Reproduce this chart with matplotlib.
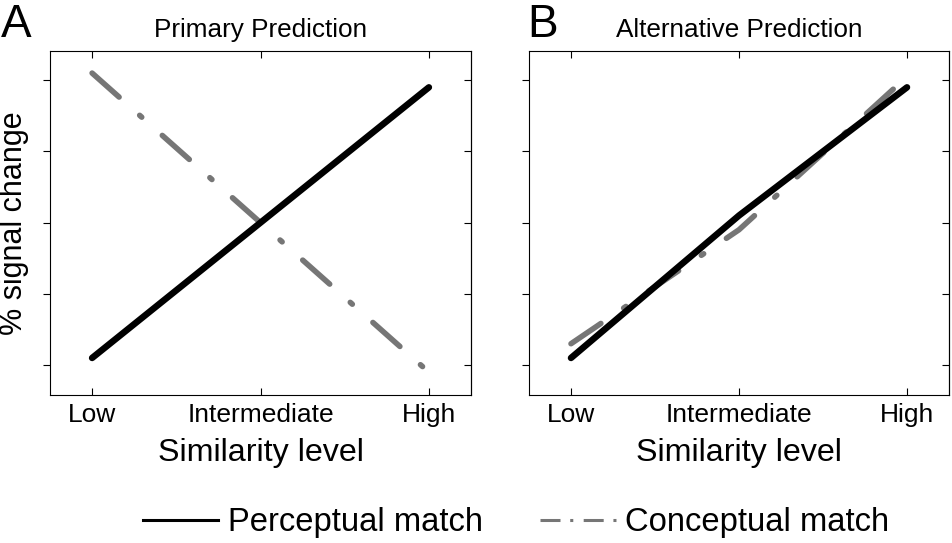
import matplotlib
matplotlib.use("Agg")
import matplotlib.pyplot as plt
from matplotlib.lines import Line2D

plt.rcParams['font.family'] = ['Liberation Sans', 'DejaVu Sans']
plt.rcParams['lines.scale_dashes'] = False

# ---- data ----
levels = ["Low", "Intermediate", "High"]
x_pos = [0, 1, 2]
yticks = [0, 1, 2, 3, 4]

perceptual_A = [0.10, 2.00, 3.90]
conceptual_A = [4.10, 2.00, -0.10]
perceptual_B = [0.10, 2.10, 3.90]
conceptual_B = [0.30, 1.90, 4.05]

titles = ["Primary Prediction", "Alternative Prediction"]
letters = ["A", "B"]
series_names = ["Perceptual match", "Conceptual match"]

black = "#000000"
gray = "#767676"
dashdot = (0, (26.0, 19.8, 2.0, 19.8))

fig = plt.figure(figsize=(9.52, 5.43), dpi=100)
ax_rects = [[50/952, 1-395/543, 421/952, 344/543],
            [529/952, 1-395/543, 420/952, 344/543]]
letter_x = [1/952, 527/952]

datasets = [(perceptual_A, conceptual_A), (perceptual_B, conceptual_B)]
for i, (perc, conc) in enumerate(datasets):
    ax = fig.add_axes(ax_rects[i])
    ax.plot(x_pos, perc, color=black, lw=4.7, solid_capstyle='round',
            solid_joinstyle='round', zorder=3)
    ax.plot(x_pos, conc, color=gray, lw=4.0, linestyle=dashdot,
            dash_capstyle='round', zorder=2)
    ax.set_xlim(-0.25, 2.25)
    ax.set_ylim(-0.42, 4.41)
    ax.set_xticks(x_pos)
    ax.set_xticklabels(levels, fontsize=19)
    ax.set_yticks(yticks)
    ax.tick_params(axis='x', direction='in', top=True, bottom=True,
                   length=5, width=0.8, pad=6)
    ax.tick_params(axis='y', direction='out', left=True, right=False,
                   labelleft=False, length=5, width=0.8)
    sec = ax.secondary_yaxis('right')
    sec.set_yticks(yticks)
    sec.tick_params(direction='in', length=5, width=0.8, labelright=False)
    sec.spines['right'].set_linewidth(0.8)
    for s in ax.spines.values():
        s.set_linewidth(0.8)
    ax.set_xlabel("Similarity level", fontsize=23.2, labelpad=8)
    ax.set_title(titles[i], fontsize=18.8, pad=10)
    if i == 0:
        ax.set_ylabel("% signal change", fontsize=22, labelpad=10)
    fig.text(letter_x[i], 1-37/543, letters[i], fontsize=33,
             ha='left', va='baseline')

handles = [Line2D([], [], color=black, lw=2.2),
           Line2D([], [], color=gray, lw=2.2, linestyle=(0, (14.4, 7, 2.2, 7.5)),
                  dash_capstyle='butt')]
fig.legend(handles, series_names, loc='center', bbox_to_anchor=(516/952, 1-523/543),
           ncol=2, frameon=False, fontsize=23.6, handlelength=2.3,
           handletextpad=0.3, columnspacing=1.75, borderpad=0, borderaxespad=0)

fig.savefig("out.png", dpi=100)
